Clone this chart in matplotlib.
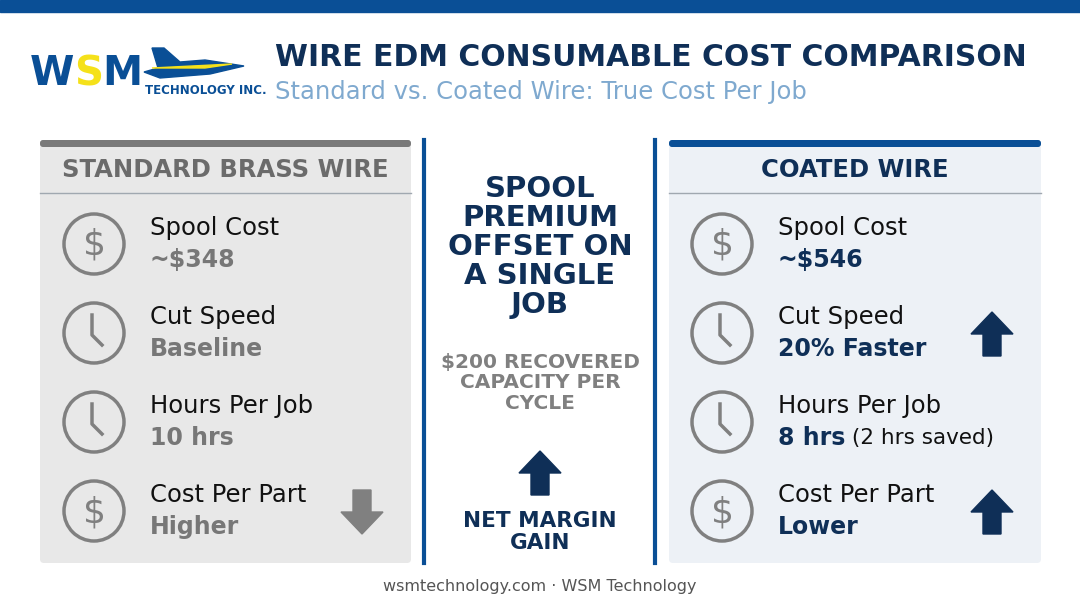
import matplotlib.pyplot as plt
from matplotlib.patches import Rectangle, FancyBboxPatch, Circle, Polygon

NAVY = "#0f2f57"
BLUE = "#0a4f96"
GRAY = "#7a7a7a"

row_labels = ["Spool Cost", "Cut Speed", "Hours Per Job", "Cost Per Part"]
row_icons = ["dollar", "clock", "clock", "dollar"]
std_values = ["~$348", "Baseline", "10 hrs", "Higher"]
std_arrows = [None, None, None, "down"]
coat_values = ["~$546", "20% Faster", "8 hrs", "Lower"]
coat_extra = ["", "", " (2 hrs saved)", ""]
coat_arrows = [None, "up", None, "up"]
row_y = [244, 333, 422, 511]

plt.rcParams['font.family'] = ['DejaVu Sans']
fig = plt.figure(figsize=(10.8, 6.03), dpi=100)
ax = fig.add_axes([0, 0, 1, 1])
ax.set_xlim(0, 1080)
ax.set_ylim(603, 0)
ax.axis("off")

ax.add_patch(Rectangle((0, 0), 1080, 12, color=BLUE))

# logo
for ch, cx, col in [("W", 52, BLUE), ("S", 89, "#f5e11a"), ("M", 122, BLUE)]:
    ax.text(cx, 74, ch, fontsize=29, fontweight="bold", color=col, va="center", ha="center")
ax.text(145, 90, "TECHNOLOGY INC.", fontsize=8.5, fontweight="bold", color=BLUE, va="center")
ax.add_patch(Polygon([[144, 72], [158, 68], [152, 48], [164, 48], [180, 62], [205, 60],
                      [244, 66], [210, 74], [160, 78]], color=BLUE))
ax.add_patch(Polygon([[152, 68], [232, 64], [205, 68]], color="#f5e11a"))

ax.text(275, 58, "WIRE EDM CONSUMABLE COST COMPARISON", fontsize=21.5, fontweight="bold",
        color=NAVY, va="center")
ax.text(275, 92, "Standard vs. Coated Wire: True Cost Per Job", fontsize=17.5, color="#7fa9cf",
        va="center")


def icon(cx, cy, kind):
    ax.add_patch(Circle((cx, cy), 30, fill=False, ec="#808080", lw=2.5))
    if kind == "dollar":
        ax.text(cx, cy + 1, "$", fontsize=26, color="#808080", ha="center", va="center")
    else:
        ax.plot([cx - 2, cx - 2, cx + 8], [cy - 18, cy + 2, cy + 12], color="#808080", lw=2.5)


def arrow(cx, cy, direction, color):
    s = -1 if direction == "up" else 1
    pts = [[cx - 9, cy - s * 22], [cx + 9, cy - s * 22], [cx + 9, cy], [cx + 21, cy],
           [cx, cy + s * 22], [cx - 21, cy], [cx - 9, cy]]
    ax.add_patch(Polygon(pts, color=color))


def panel(x0, x1, fill, stripe, title, tcolor, icon_x, values, vcolor, arrows, extras):
    ax.add_patch(FancyBboxPatch((x0, 140), x1 - x0, 423, boxstyle="round,pad=0,rounding_size=4",
                                fc=fill, ec="none"))
    ax.add_patch(FancyBboxPatch((x0, 140), x1 - x0, 7, boxstyle="round,pad=0,rounding_size=3",
                                fc=stripe, ec="none"))
    ax.plot([x0, x1], [193, 193], color="#a0a8b0", lw=1)
    ax.text((x0 + x1) / 2, 170, title, fontsize=17.5, fontweight="bold", color=tcolor,
            ha="center", va="center")
    for lab, ic, val, ar, ex, y in zip(row_labels, row_icons, values, arrows, extras, row_y):
        icon(icon_x, y, ic)
        ax.text(icon_x + 56, y - 16, lab, fontsize=17.5, color="#111111", va="center")
        t = ax.text(icon_x + 56, y + 16, val, fontsize=17, fontweight="bold", color=vcolor,
                    va="center")
        if ex:
            ax.annotate(ex, xycoords=t, xy=(1, 0.5), va="center", fontsize=15.5, color="#111111")
        if ar:
            arrow(x1 - 49, y + 1, ar, vcolor if ar == "up" else "#808080")


panel(40, 411, "#e8e8e8", "#7a7a7a", "STANDARD BRASS WIRE", "#6b6b6b", 94,
      std_values, "#777777", std_arrows, ["", "", "", ""])
panel(669, 1041, "#edf1f6", BLUE, "COATED WIRE", NAVY, 722,
      coat_values, NAVY, coat_arrows, coat_extra)

for x in (424, 655):
    ax.plot([x, x], [140, 563], color=BLUE, lw=3)
ax.text(540, 247, "SPOOL\nPREMIUM\nOFFSET ON\nA SINGLE\nJOB", fontsize=21, fontweight="bold",
        color=NAVY, ha="center", va="center", linespacing=1.05)
ax.text(540, 383, "$200 RECOVERED\nCAPACITY PER\nCYCLE", fontsize=14.5, fontweight="bold",
        color="#808080", ha="center", va="center", linespacing=1.1)
arrow(540, 473, "up", NAVY)
ax.text(540, 532, "NET MARGIN\nGAIN", fontsize=15.5, fontweight="bold", color=NAVY,
        ha="center", va="center", linespacing=1.1)

ax.text(540, 587, "wsmtechnology.com · WSM Technology", fontsize=11.5, color="#555555",
        ha="center", va="center")

fig.savefig("out.png", dpi=100, facecolor="white")
